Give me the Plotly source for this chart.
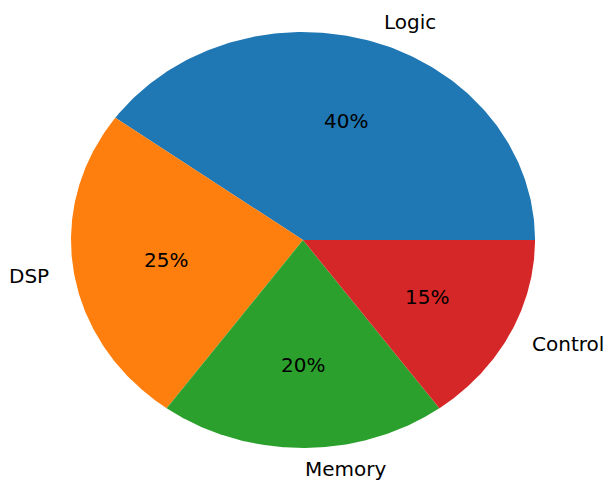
import numpy as np
import plotly.graph_objects as go

labels = ["Logic", "DSP", "Memory", "Control"]
values = [40, 25, 20, 15]
colors = ["#1f77b4", "#ff7f0e", "#2ca02c", "#d62728"]

W, H = 609, 481
cx, cy = 303, 240      # pixel center
rx, ry = 232, 208      # pixel radii (ellipse)

fig = go.Figure()
total = sum(values)
start = 0.0
annotations = []
for lab, v, c in zip(labels, values, colors):
    frac = v / total
    a0, a1 = start * 2 * np.pi, (start + frac) * 2 * np.pi
    t = np.linspace(a0, a1, 200)
    xs = np.concatenate([[0], np.cos(t), [0]])
    ys = np.concatenate([[0], np.sin(t), [0]])
    fig.add_trace(go.Scatter(x=xs, y=ys, fill="toself", fillcolor=c, mode="lines",
                             line=dict(width=0, color=c), name=lab, hoverinfo="name"))
    mid = (a0 + a1) / 2
    lx, ly = 1.1 * np.cos(mid), 1.1 * np.sin(mid)
    annotations.append(dict(x=lx, y=ly, text=lab, showarrow=False,
                            xanchor="left" if lx > -1e-6 else "right", yanchor="middle",
                            font=dict(size=20, color="black", family="DejaVu Sans")))
    px, py = 0.6 * np.cos(mid), 0.6 * np.sin(mid)
    annotations.append(dict(x=px, y=py, text=f"{frac*100:.0f}%", showarrow=False,
                            xanchor="center", yanchor="middle",
                            font=dict(size=20, color="black", family="DejaVu Sans")))
    start += frac

fig.update_layout(
    width=W, height=H, margin=dict(l=0, r=0, t=0, b=0),
    paper_bgcolor="white", plot_bgcolor="white", showlegend=False,
    xaxis=dict(range=[-cx / rx, (W - cx) / rx], visible=False, fixedrange=True),
    yaxis=dict(range=[-(H - cy) / ry, cy / ry], visible=False, fixedrange=True),
    annotations=annotations,
)
fig.write_html("out.html")
